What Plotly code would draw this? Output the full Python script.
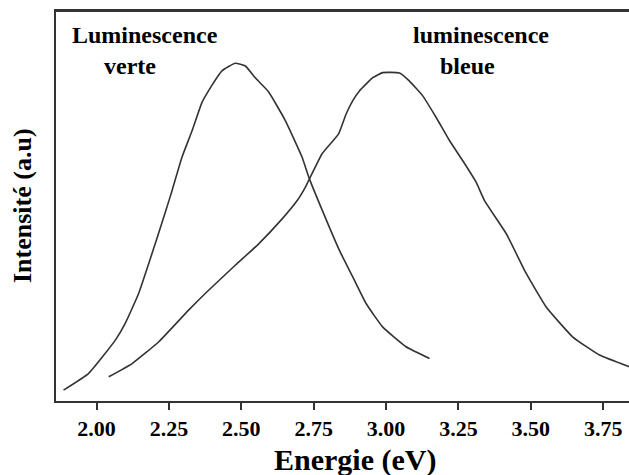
import plotly.graph_objects as go

# Green luminescence (energy eV, intensity a.u.)
green_x = [1.886, 1.973, 2.065, 2.099, 2.145, 2.203, 2.238, 2.261, 2.295, 2.330, 2.364,
           2.399, 2.434, 2.479, 2.514, 2.549, 2.594, 2.652, 2.710, 2.733, 2.779, 2.839,
           2.885, 2.931, 2.988, 3.069, 3.150]
green_y = [0.028, 0.071, 0.156, 0.199, 0.275, 0.404, 0.485, 0.540, 0.625, 0.693, 0.765,
           0.810, 0.847, 0.866, 0.859, 0.828, 0.793, 0.719, 0.625, 0.574, 0.490, 0.386,
           0.318, 0.250, 0.190, 0.139, 0.109]

# Blue luminescence
blue_x = [2.042, 2.123, 2.215, 2.318, 2.387, 2.479, 2.560, 2.641, 2.693, 2.721, 2.779,
          2.836, 2.862, 2.885, 2.908, 2.954, 2.988, 3.046, 3.080, 3.126, 3.173, 3.219,
          3.265, 3.311, 3.340, 3.415, 3.484, 3.553, 3.645, 3.737, 3.840]
blue_y = [0.062, 0.096, 0.152, 0.233, 0.284, 0.348, 0.403, 0.467, 0.514, 0.548, 0.634,
          0.685, 0.736, 0.770, 0.795, 0.829, 0.842, 0.841, 0.821, 0.783, 0.727, 0.668,
          0.616, 0.561, 0.514, 0.429, 0.327, 0.241, 0.164, 0.118, 0.088]

tick_vals = [2.00, 2.25, 2.50, 2.75, 3.00, 3.25, 3.50, 3.75]
tick_text = ["2.00", "2.25", "2.50", "2.75", "3.00", "3.25", "3.50", "3.75"]

FONT = "Liberation Serif"
LINE = "#333333"
TXT = "#000000"

fig = go.Figure()
fig.add_trace(go.Scatter(x=green_x, y=green_y, mode="lines",
                         line=dict(color=LINE, width=1.6, shape="spline", smoothing=0.4),
                         showlegend=False))
fig.add_trace(go.Scatter(x=blue_x, y=blue_y, mode="lines",
                         line=dict(color=LINE, width=1.6, shape="spline", smoothing=0.4),
                         showlegend=False))

W, H = 629, 475
L, R, T, B = 56, 0, 11, 74
pw, ph = W - L - R, H - T - B

def px(xp):
    return (xp - L) / pw

def py(yp):
    return (H - B - yp) / ph

fig.update_layout(
    width=W, height=H,
    margin=dict(l=L, r=R, t=T, b=B, autoexpand=False),
    plot_bgcolor="white", paper_bgcolor="white",
    xaxis=dict(range=[1.86, 3.839], tickvals=tick_vals, ticktext=tick_text,
               automargin=False,
               showgrid=False, zeroline=False, showline=True, linecolor=LINE,
               linewidth=2, mirror=True, ticks="outside", ticklen=7, tickwidth=2,
               tickcolor=LINE,
               tickfont=dict(family=FONT, size=22, color=TXT, weight="bold")),
    yaxis=dict(range=[0, 1], showgrid=False, zeroline=False, showline=True,
               automargin=False,
               linecolor=LINE, linewidth=2, showticklabels=False, ticks=""),
)

# top frame line drawn as a thin filled band
fig.add_shape(type="rect", xref="paper", yref="paper",
              x0=-1.0 / pw, x1=1.0, y0=1.0 - 1.0 / ph, y1=1.0 + 1.0 / ph,
              fillcolor=LINE, line=dict(width=0), layer="above")

ann = [
    dict(text="Luminescence", x=px(145), y=py(35)),
    dict(text="verte", x=px(130), y=py(66)),
    dict(text="luminescence", x=px(481), y=py(35)),
    dict(text="bleue", x=px(467), y=py(66)),
]
for a in ann:
    fig.add_annotation(xref="paper", yref="paper", x=a["x"], y=a["y"], text=a["text"],
                       showarrow=False, xanchor="center", yanchor="middle",
                       font=dict(family=FONT, size=24, color=TXT, weight="bold"))

fig.add_annotation(xref="paper", yref="paper", x=px(355), y=py(460),
                   text="Energie (eV)", showarrow=False,
                   xanchor="center", yanchor="middle",
                   font=dict(family=FONT, size=30, color=TXT, weight="bold"))
fig.add_annotation(xref="paper", yref="paper", x=px(22), y=py(206),
                   text="Intensité (a.u)", showarrow=False, textangle=-90,
                   xanchor="center", yanchor="middle",
                   font=dict(family=FONT, size=26, color=TXT, weight="bold"))

fig.write_html("out.html", config={"displayModeBar": False},
               post_script="document.body.style.margin='0';document.body.style.overflow='hidden';")
